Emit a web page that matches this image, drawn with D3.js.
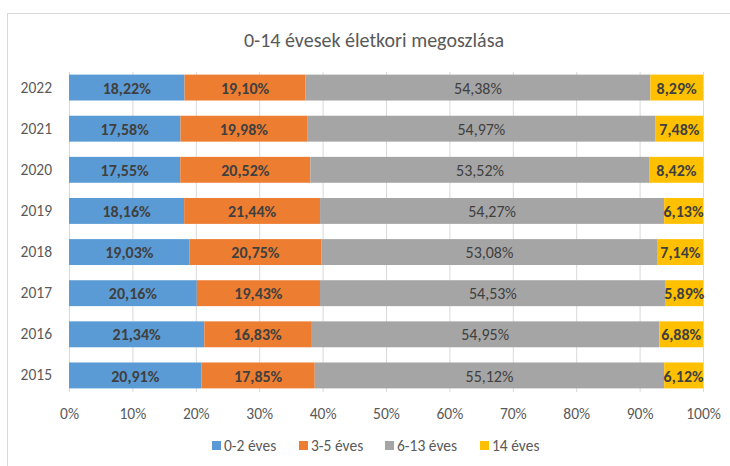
<!DOCTYPE html>
<html><head><meta charset="utf-8">
<script src="https://cdn.jsdelivr.net/npm/d3@7"></script>
<style>body{margin:0;background:#fff;} svg{display:block;}</style>
</head><body>
<svg id="c" width="730" height="466"></svg>
<script>
const years = ["2022","2021","2020","2019","2018","2017","2016","2015"];
const seriesNames = ["0-2 éves","3-5 éves","6-13 éves","14 éves"];
const s0_2 = [18.22,17.58,17.55,18.16,19.03,20.16,21.34,20.91];
const s3_5 = [19.10,19.98,20.52,21.44,20.75,19.43,16.83,17.85];
const s6_13 = [54.38,54.97,53.52,54.27,53.08,54.53,54.95,55.12];
const s14 = [8.29,7.48,8.42,6.13,7.14,5.89,6.88,6.12];
const tickValues = [0,10,20,30,40,50,60,70,80,90,100];
const colors = ["#5B9BD5","#ED7D31","#A5A5A5","#FFC000"];

const font = "Carlito, Calibri, 'Liberation Sans Narrow', Lato, 'Open Sans', sans-serif";
const svg = d3.select("#c");
svg.append("rect").attr("x",7.5).attr("y",13.5).attr("width",740).attr("height",470)
  .attr("fill","#fff").attr("stroke","#d9d9d9");

const rows = years.map((y,i)=>({year:y, v:[s0_2[i],s3_5[i],s6_13[i],s14[i]]}));
const x = d3.scaleLinear().domain([0,100]).range([69,703]);
const y = d3.scaleBand().domain(years).range([67,396]).paddingInner(0.37).paddingOuter(0.185);

svg.append("text").attr("x",374).attr("y",47).attr("text-anchor","middle")
  .attr("font-family",font).attr("font-size",20).attr("fill","#595959")
  .text("0-14 évesek életkori megoszlása");

// gridlines
svg.append("g").selectAll("line").data(tickValues).join("line")
  .attr("x1",d=>x(d)+0.5).attr("x2",d=>x(d)+0.5).attr("y1",72).attr("y2",392)
  .attr("stroke","#d9d9d9").attr("stroke-width",1);

// x axis labels
const xa = svg.append("g").attr("transform","translate(0,405)")
  .call(d3.axisBottom(x).tickValues(tickValues).tickSize(0).tickFormat(d=>d+"%"));
xa.select(".domain").remove();
xa.selectAll("text").attr("font-family",font).attr("font-size",15.5).attr("fill","#595959");

// y axis labels
const ya = svg.append("g").attr("transform","translate(58,0)")
  .call(d3.axisLeft(y).tickSize(0).tickPadding(6));
ya.select(".domain").remove();
ya.selectAll("text").attr("font-family",font).attr("font-size",15.5).attr("fill","#595959");

// stacked bars
const data = rows.map(r=>{const o={year:r.year}; seriesNames.forEach((n,k)=>o[n]=r.v[k]); return o;});
const stack = d3.stack().keys(seriesNames)(data);
const gs = svg.append("g").selectAll("g").data(stack).join("g").attr("fill",(d,i)=>colors[i]);
gs.selectAll("rect").data(d=>d).join("rect")
  .attr("x",d=>x(d[0])).attr("width",d=>x(d[1])-x(d[0]))
  .attr("y",d=>y(d.data.year)).attr("height",y.bandwidth());

const gl = svg.append("g").selectAll("g").data(stack).join("g");
gl.each(function(s,i){
  d3.select(this).selectAll("text").data(s).join("text")
    .attr("x",d=>(x(d[0])+x(d[1]))/2)
    .attr("y",d=>y(d.data.year)+y.bandwidth()/2+0.5)
    .attr("dy","0.35em").attr("text-anchor","middle")
    .attr("font-family",font).attr("font-size",16)
    .attr("font-weight",i===2?"normal":"bold")
    .attr("fill","#404040")
    .text(d=>(d[1]-d[0]).toFixed(2).replace(".",",")+"%");
});

// legend
const lx = [212,299,385,480];
const lg = svg.append("g").selectAll("g").data(seriesNames).join("g")
  .attr("transform",(d,i)=>`translate(${lx[i]},446)`);
lg.append("rect").attr("x",0).attr("y",-5).attr("width",9).attr("height",9).attr("fill",(d,i)=>colors[i]);
lg.append("text").attr("x",12).attr("y",0).attr("dy","0.35em")
  .attr("font-family",font).attr("font-size",15.5).attr("fill","#595959").text(d=>d);
</script>
</body></html>
